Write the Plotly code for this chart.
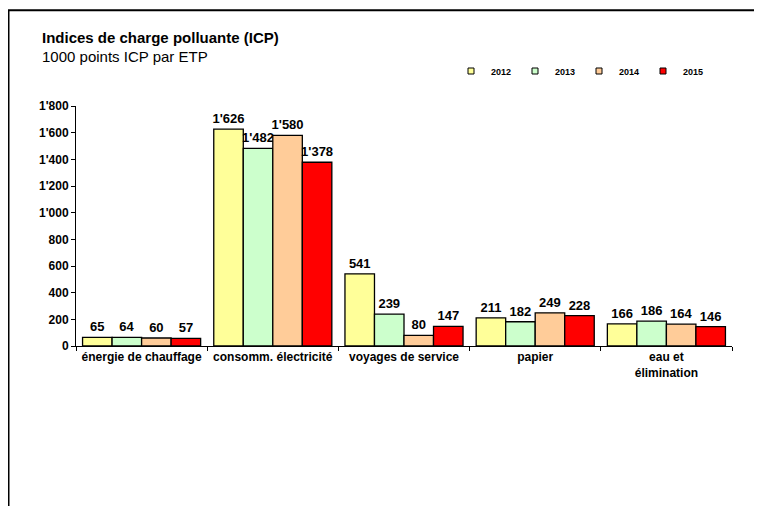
import plotly.graph_objects as go

categories = ["énergie de chauffage", "consomm. électricité", "voyages de service", "papier", "eau et<br>élimination"]
years = ["2012", "2013", "2014", "2015"]
v2012 = [65, 1626, 541, 211, 166]
v2013 = [64, 1482, 239, 182, 186]
v2014 = [60, 1580, 80, 249, 164]
v2015 = [57, 1378, 147, 228, 146]
series = [v2012, v2013, v2014, v2015]
colors = ["#FFFF99", "#CCFFCC", "#FFCC99", "#FF0000"]
y_ticks = [0, 200, 400, 600, 800, 1000, 1200, 1400, 1600, 1800]

fig = go.Figure()
for name, vals, col in zip(years, series, colors):
    fig.add_trace(go.Bar(
        x=categories, y=vals, name=name, showlegend=False,
        marker=dict(color=col, line=dict(color="black", width=1.3)),
        text=vals, texttemplate="%{y:,}", textposition="outside",
        textfont=dict(family="Arial", size=13, color="black", weight="bold"),
        cliponaxis=False, constraintext="none",
    ))
for name, col in zip(years, colors):
    fig.add_trace(go.Scatter(
        x=[None], y=[None], mode="markers", name=name,
        marker=dict(symbol="square", size=6, color=col, line=dict(color="black", width=1)),
    ))

OFF = 8  # page offset of the figure in the screenshot
W, H = 762, 506
L, T = 68, 98
pw, ph = 656, 240
R = W - L - pw
B = H - T - ph


def px(x):
    return (x - OFF - L) / pw


def py(y):
    return (H - B - (y - OFF)) / ph


fig.update_layout(
    width=W, height=H,
    margin=dict(l=L, r=R, t=T, b=B),
    paper_bgcolor="white", plot_bgcolor="white",
    barmode="group", bargap=0.1, bargroupgap=0,
    separators=".'",
    font=dict(family="Arial", color="black"),
    showlegend=True,
    legend=dict(orientation="h", x=px(451), y=py(71), xanchor="left", yanchor="middle",
                font=dict(family="Arial", size=9, weight="bold"),
                entrywidth=19, itemwidth=30, tracegroupgap=0, bgcolor="rgba(0,0,0,0)"),
    xaxis=dict(showline=True, linecolor="black", linewidth=1, ticks="outside",
               tickson="boundaries", ticklen=4, tickcolor="black",
               tickfont=dict(family="Arial", size=12, weight="bold")),
    yaxis=dict(range=[0, 1800], tickvals=y_ticks, tickformat=",", showline=True,
               linecolor="black", linewidth=1, ticks="outside", ticklen=4,
               tickcolor="black", showgrid=False, zeroline=False,
               tickfont=dict(family="Arial", size=12, weight="bold")),
    annotations=[
        dict(text="<b>Indices de charge polluante (ICP)</b>", xref="paper", yref="paper",
             x=px(40), y=py(38), xanchor="left", yanchor="middle", showarrow=False,
             font=dict(family="Arial", size=15)),
        dict(text="1000 points ICP par ETP", xref="paper", yref="paper",
             x=px(40), y=py(56.5), xanchor="left", yanchor="middle", showarrow=False,
             font=dict(family="Arial", size=15)),
    ],
    shapes=[
        dict(type="rect", xref="paper", yref="paper", x0=px(8.5), x1=px(800), y0=py(560), y1=py(10.3),
             line=dict(color="black", width=2), layer="above"),
    ],
)

fig.write_html("out.html")
